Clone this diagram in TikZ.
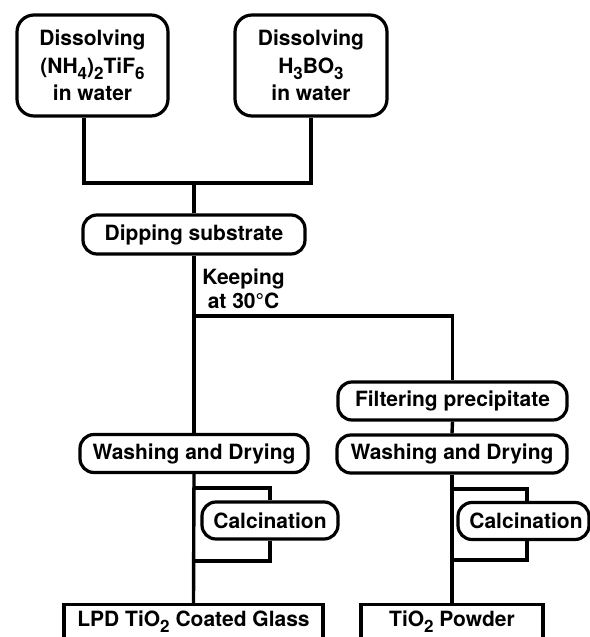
\documentclass[tikz,border=0pt]{standalone}
\usepackage{fontspec}
\setmainfont{TeX Gyre Heros}
\newcommand\chemsub[1]{\raisebox{-0.3em}{\fontsize{17}{17}\selectfont #1}}
\begin{document}
\begin{tikzpicture}[x=1pt,y=-1pt,
  every node/.style={font=\fontsize{21}{27.5}\selectfont\bfseries, inner sep=0pt},
  bigbox/.style={draw, line width=3.2pt, rounded corners=17pt, align=center, minimum height=101pt},
  pill/.style={draw, line width=3.2pt, rounded corners=14pt, minimum height=38pt},
  endbox/.style={draw, line width=3.2pt, anchor=north, text height=15pt, text depth=40pt, inner ysep=7pt},
  conn/.style={line width=3.4pt}]
\useasboundingbox (0,0) rectangle (589,637);

\node[bigbox, minimum width=151pt] (A) at (92.5,65.5) {Dissolving\\(NH\chemsub{4})\chemsub{2}TiF\chemsub{6}\\in water};
\node[bigbox, minimum width=152pt] (B) at (311,65.5) {Dissolving\\H\chemsub{3}BO\chemsub{3}\\in water};

\coordinate (ja) at (84,183);
\coordinate (jb) at (311,183);
\coordinate (j) at (194,183);
\draw[conn] (A.south -| ja) -- (ja) -- (jb) -- (B.south);

\node[pill, minimum width=222pt, minimum height=39pt] (dip) at (194,234.5) {Dipping substrate};
\draw[conn] (j) -- (dip.north);

\node[font=\fontsize{21}{24}\selectfont\bfseries, align=center] (keep) at (243.5,289) {Keeping\\at 30°C};

\coordinate (br) at (194,316);
\node[pill, minimum width=229pt] (filt) at (452.5,401) {Filtering precipitate};
\draw[conn] (br) -| (filt.north);

\node[pill, minimum width=228pt] (wash1) at (194,453.5) {Washing and Drying};
\node[pill, minimum width=230pt] (wash2) at (452,454) {Washing and Drying};
\draw[conn] (dip.south) -- (wash1.north);
\draw[conn] (filt.south) -- (wash2.north);

\node[pill, minimum width=136pt, minimum height=37pt] (calc1) at (270,520.5) {Calcination};
\node[pill, minimum width=131pt, minimum height=37pt] (calc2) at (523.5,521) {\hspace*{5pt}Calcination};

\node[endbox, minimum width=259pt] (lpd) at (193.5,603) {LPD TiO\chemsub{2} Coated Glass};
\node[endbox, minimum width=182pt] (pow) at (452,603) {TiO\chemsub{2} Powder};

\draw[conn] (wash1.south) -- (lpd.north);
\draw[conn] (wash2.south) -- (pow.north);

\coordinate (b1t) at (194,488);
\coordinate (b1b) at (194,561);
\draw[conn] (b1t) -| (calc1.north);
\draw[conn] (calc1.south) |- (b1b);

\coordinate (b2t) at (452,489);
\coordinate (b2b) at (452,560);
\coordinate (b2x) at (527,489);
\draw[conn] (b2t) -- (b2x) -- (b2x |- calc2.north);
\draw[conn] (b2x |- calc2.south) |- (b2b);
\end{tikzpicture}
\end{document}
